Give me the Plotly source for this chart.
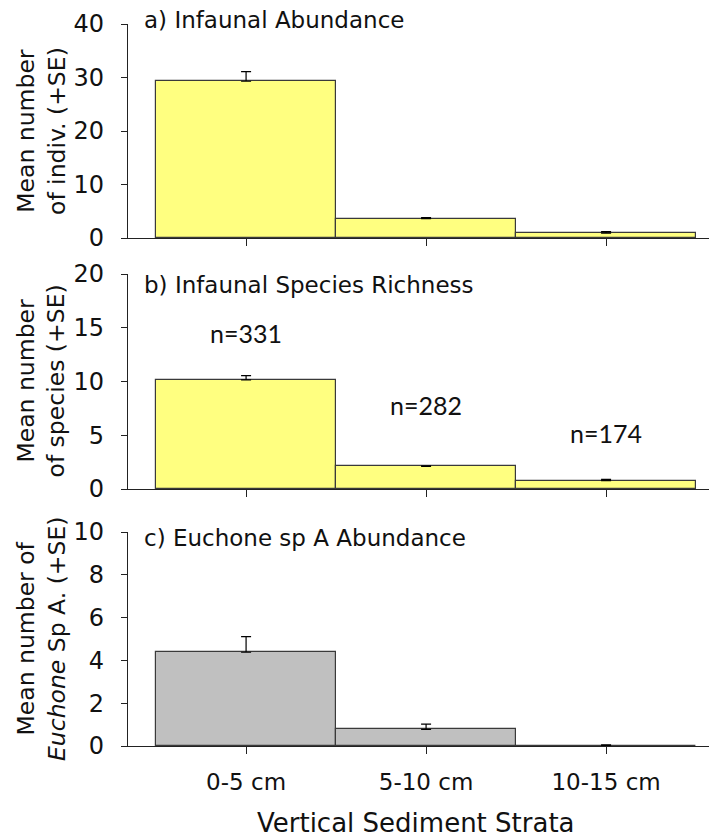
import plotly.graph_objects as go

# data
depths = ["0-5 cm", "5-10 cm", "10-15 cm"]
abund_mean = [29.3, 3.6, 0.9]
abund_se = [1.8, 0.2, 0.3]
rich_mean = [10.15, 2.1, 0.77]
rich_se = [0.4, 0.05, 0.13]
euch_mean = [4.38, 0.78, 0.0]
euch_se = [0.73, 0.24, 0.05]
n_counts = [331, 282, 174]

W, H = 717, 839
OFF = 8  # page margin of the html body
FONT = "DejaVu Sans, sans-serif"
yellow, grey = "#FFFF80", "#C0C0C0"


def py(y):
    return 1 - (y - OFF) / H


def px(x):
    return (x - OFF) / W


# panel top/bottom in pixels
panels = [(24, 238), (274, 489), (532, 746)]
x_left = px(128)
span = (W - (128 - OFF)) / 180.0
xrange = [-0.656, -0.656 + span]

fig = go.Figure()

series = [(abund_mean, abund_se, yellow, 40, 10),
          (rich_mean, rich_se, yellow, 20, 5),
          (euch_mean, euch_se, grey, 10, 2)]

for i, (mean, se, col, ymax, dt) in enumerate(series):
    k = "" if i == 0 else str(i + 1)
    fig.add_trace(go.Bar(x=[0, 1, 2], y=mean, width=1.0, marker_color=col,
                         marker_line=dict(color="#3a3a3a", width=1.2),
                         error_y=dict(type="data", array=se, arrayminus=[0] * 3, symmetric=False,
                                      color="black", thickness=1.2, width=5),
                         xaxis="x" + k, yaxis="y" + k, showlegend=False))
    top, bot = panels[i]
    fig.layout["xaxis" + k] = dict(domain=[x_left, 1], range=xrange, anchor="y" + k,
                                   tickmode="array", tickvals=[0, 1, 2],
                                   ticktext=depths if i == 2 else ["", "", ""],
                                   ticks="outside", ticklen=7, tickcolor="#222",
                                   showline=True, linecolor="#222", linewidth=1.2,
                                   showgrid=False, zeroline=False, automargin=False,
                                   tickfont=dict(size=23, color="#111", family=FONT),
                                   ticklabelstandoff=8)
    fig.layout["yaxis" + k] = dict(domain=[py(bot), py(top)], range=[0, ymax], anchor="x" + k,
                                   dtick=dt, ticks="outside", ticklen=6, tickcolor="#222",
                                   showline=True, linecolor="#222", linewidth=1.2,
                                   showgrid=False, zeroline=False, automargin=False,
                                   tickfont=dict(size=24, color="#111", family=FONT),
                                   ticklabelstandoff=12)

ann = []
titles = ["a) Infaunal Abundance", "b) Infaunal Species Richness", "c) Euchone sp A Abundance"]
title_y = [20, 285, 538]
ytitles = ["Mean number<br>of indiv. (+SE)", "Mean number<br>of species (+SE)",
           "Mean number of<br><i>Euchone</i> Sp A. (+SE)"]
for i in range(3):
    top, bot = panels[i]
    ann.append(dict(text=titles[i], xref="paper", yref="paper", x=px(142), y=py(title_y[i]),
                    xanchor="left", yanchor="middle", showarrow=False,
                    font=dict(size=23, color="#111", family=FONT)))
    ann.append(dict(text=ytitles[i], xref="paper", yref="paper", x=px(41), y=py((top + bot) / 2),
                    xanchor="center", yanchor="middle", showarrow=False, textangle=-90,
                    font=dict(size=23.5, color="#111", family=FONT)))

# sample sizes in panel b
n_y = [14.5, 7.8, 5.2]
for j, n in enumerate(n_counts):
    ann.append(dict(text=f"n={n}", xref="x2", yref="y2", x=j, y=n_y[j], showarrow=False,
                    xanchor="center", yanchor="middle",
                    font=dict(size=25, color="#111", family="Lato, Open Sans, sans-serif")))

ann.append(dict(text="Vertical Sediment Strata", xref="paper", yref="paper", x=px(416), y=py(823),
                xanchor="center", yanchor="middle", showarrow=False,
                font=dict(size=26, color="#111", family=FONT)))

fig.update_layout(width=W, height=H, margin=dict(l=0, r=0, t=0, b=0),
                  plot_bgcolor="white", paper_bgcolor="white", annotations=ann,
                  bargap=0)
fig.write_html("out.html")
